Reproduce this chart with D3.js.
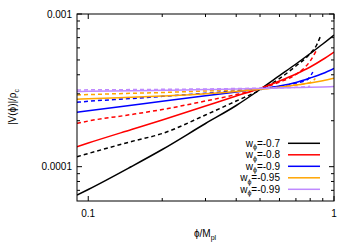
<!DOCTYPE html>
<html>
<head>
<meta charset="utf-8">
<script src="https://cdn.jsdelivr.net/npm/d3@7"></script>
<style>
  body { margin: 0; background: #fff; }
  text { font-family: "Liberation Sans", Arial, sans-serif; }
</style>
</head>
<body>
<script>

// phi / M_pl sample points
const phiSolid = [0.09, 0.1, 0.15, 0.2, 0.3, 0.4, 0.5, 0.6, 0.7, 0.8, 0.9, 1.0];

const vSolid07  = [6.52e-5, 7.09e-5, 1.003e-4, 1.296e-4, 1.918e-4, 2.516e-4, 3.203e-4, 3.944e-4, 4.704e-4, 5.512e-4, 6.362e-4, 7.286e-4];
const vSolid08  = [1.352e-4, 1.429e-4, 1.752e-4, 2.021e-4, 2.497e-4, 2.903e-4, 3.251e-4, 3.640e-4, 4.046e-4, 4.496e-4, 5.035e-4, 5.638e-4];
const vSolid09  = [2.270e-4, 2.323e-4, 2.523e-4, 2.680e-4, 2.912e-4, 3.084e-4, 3.237e-4, 3.376e-4, 3.558e-4, 3.809e-4, 4.077e-4, 4.409e-4];
const vSolid095 = [2.763e-4, 2.784e-4, 2.847e-4, 2.903e-4, 3.001e-4, 3.107e-4, 3.212e-4, 3.311e-4, 3.427e-4, 3.532e-4, 3.651e-4, 3.792e-4];
const vSolid099 = [3.107e-4, 3.117e-4, 3.141e-4, 3.164e-4, 3.198e-4, 3.227e-4, 3.251e-4, 3.276e-4, 3.295e-4, 3.315e-4, 3.331e-4, 3.351e-4];

// dashed curves stop before phi = 1
const phiDash07  = [0.09, 0.1, 0.15, 0.2, 0.3, 0.4, 0.5, 0.6, 0.7, 0.8, 0.85, 0.88];
const vDash07    = [1.162e-4, 1.220e-4, 1.462e-4, 1.649e-4, 2.180e-4, 2.692e-4, 3.178e-4, 3.780e-4, 4.564e-4, 5.512e-4, 6.266e-4, 7.122e-4];
const phiDash08  = [0.09, 0.1, 0.15, 0.2, 0.3, 0.4, 0.5, 0.6, 0.7, 0.8, 0.85];
const vDash08    = [1.923e-4, 1.991e-4, 2.196e-4, 2.369e-4, 2.692e-4, 2.969e-4, 3.251e-4, 3.585e-4, 4.015e-4, 4.922e-4, 5.810e-4];
const phiDash09  = [0.09, 0.1, 0.15, 0.2, 0.3, 0.4, 0.5, 0.6, 0.7, 0.78, 0.82];
const vDash09    = [2.640e-4, 2.680e-4, 2.796e-4, 2.890e-4, 3.024e-4, 3.141e-4, 3.237e-4, 3.361e-4, 3.532e-4, 3.724e-4, 4.170e-4];
const phiDash095 = [0.09, 0.1, 0.15, 0.2, 0.3, 0.4, 0.5, 0.6, 0.7, 0.8, 0.84];
const vDash095   = [2.947e-4, 2.965e-4, 3.024e-4, 3.060e-4, 3.131e-4, 3.188e-4, 3.237e-4, 3.311e-4, 3.427e-4, 3.558e-4, 3.780e-4];
const phiDash099 = [0.09, 0.1, 0.15, 0.2, 0.3, 0.4, 0.5, 0.6, 0.7, 0.8];
const vDash099   = [3.178e-4, 3.186e-4, 3.198e-4, 3.210e-4, 3.230e-4, 3.250e-4, 3.270e-4, 3.290e-4, 3.310e-4, 3.360e-4];

const wLabels = ["-0.7", "-0.8", "-0.9", "-0.95", "-0.99"];
const colors  = ["#000000", "#ff0000", "#0000ff", "#ffa500", "#bf8aff"];

const xMajor = [0.1, 1];
const xMinor = [0.2, 0.3, 0.4, 0.5, 0.6, 0.7, 0.8, 0.9];
const yMajor = [1e-4, 1e-3];
const yMajorLabels = ["0.0001", "0.001"];
const yMinor = [7e-5, 8e-5, 9e-5, 2e-4, 3e-4, 4e-4, 5e-4, 6e-4, 7e-4, 8e-4, 9e-4];

const W = 355, H = 249;
const margin = { top: 14, right: 21, bottom: 48, left: 77 };
const width = W - margin.left - margin.right;
const height = H - margin.top - margin.bottom;

const svg = d3.select("body").append("svg")
    .attr("width", W).attr("height", H);

const g = svg.append("g")
    .attr("transform", "translate(" + margin.left + "," + margin.top + ")");

const x = d3.scaleLog().domain([0.09, 1]).range([0, width]);
const y = d3.scaleLog().domain([5.96e-5, 1e-3]).range([height, 0]);

const line = d3.line()
    .x(d => x(d[0]))
    .y(d => y(d[1]))
    .curve(d3.curveMonotoneX);

const solids = [vSolid07, vSolid08, vSolid09, vSolid095, vSolid099];
const dashes = [[phiDash07, vDash07], [phiDash08, vDash08], [phiDash09, vDash09],
                [phiDash095, vDash095], [phiDash099, vDash099]];

g.append("defs").append("clipPath").attr("id", "clip")
  .append("rect").attr("width", width).attr("height", height);

const curves = g.append("g").attr("clip-path", "url(#clip)");

solids.forEach((vals, i) => {
    curves.append("path")
        .datum(phiSolid.map((p, j) => [p, vals[j]]))
        .attr("d", line)
        .attr("fill", "none")
        .attr("stroke", colors[i])
        .attr("stroke-width", 1.5);
    curves.append("path")
        .datum(dashes[i][0].map((p, j) => [p, dashes[i][1][j]]))
        .attr("d", line)
        .attr("fill", "none")
        .attr("stroke", colors[i])
        .attr("stroke-width", 1.5)
        .attr("stroke-dasharray", "4,3");
});

// ticks on all four sides, pointing inwards
const ticks = g.append("g").attr("stroke", "#000").attr("stroke-width", 1);
function xTick(v, len) {
    ticks.append("line").attr("x1", x(v)).attr("x2", x(v)).attr("y1", height).attr("y2", height - len);
    ticks.append("line").attr("x1", x(v)).attr("x2", x(v)).attr("y1", 0).attr("y2", len);
}
function yTick(v, len) {
    ticks.append("line").attr("y1", y(v)).attr("y2", y(v)).attr("x1", 0).attr("x2", len);
    ticks.append("line").attr("y1", y(v)).attr("y2", y(v)).attr("x1", width).attr("x2", width - len);
}
xMajor.forEach(v => xTick(v, 5));
xMinor.forEach(v => xTick(v, 3));
yMajor.forEach(v => yTick(v, 5));
yMinor.forEach(v => yTick(v, 3));

g.append("rect")
    .attr("width", width).attr("height", height)
    .attr("fill", "none").attr("stroke", "#000").attr("stroke-width", 1);

// tick labels
g.selectAll("text.xl").data(xMajor).join("text")
    .attr("class", "xl")
    .attr("x", d => x(d)).attr("y", height + 16)
    .attr("text-anchor", "middle").attr("font-size", 10)
    .text(d => d);

g.selectAll("text.yl").data(yMajor).join("text")
    .attr("class", "yl")
    .attr("x", -5).attr("y", d => y(d) + 3.5)
    .attr("text-anchor", "end").attr("font-size", 10)
    .text((d, i) => yMajorLabels[i]);

// axis titles
const xt = svg.append("text")
    .attr("x", 205).attr("y", 237)
    .attr("text-anchor", "middle").attr("font-size", 10);
xt.append("tspan").text("\u03d5/M");
xt.append("tspan").attr("font-size", 7).attr("dy", 2.5).text("pl");

const yt = svg.append("text")
    .attr("transform", "translate(16,107) rotate(-90)")
    .attr("text-anchor", "middle").attr("font-size", 10);
yt.append("tspan").text("|V(\u03d5)|/\u03c1");
yt.append("tspan").attr("font-size", 7).attr("dy", 2.5).text("c");

// legend
const legend = g.append("g");
wLabels.forEach((lab, i) => {
    const ly = 143.3 + i * 11.5 - margin.top;
    const t = legend.append("text")
        .attr("x", 280 - margin.left).attr("y", ly + 3.5)
        .attr("text-anchor", "end").attr("font-size", 10);
    t.append("tspan").text("w");
    t.append("tspan").attr("font-size", 7).attr("dy", 2.5).text("\u03d5");
    t.append("tspan").attr("dy", -2.5).text("=" + lab);
    legend.append("line")
        .attr("x1", 288 - margin.left).attr("x2", 320 - margin.left)
        .attr("y1", ly).attr("y2", ly)
        .attr("stroke", colors[i]).attr("stroke-width", 1.5);
});

</script>
</body>
</html>
